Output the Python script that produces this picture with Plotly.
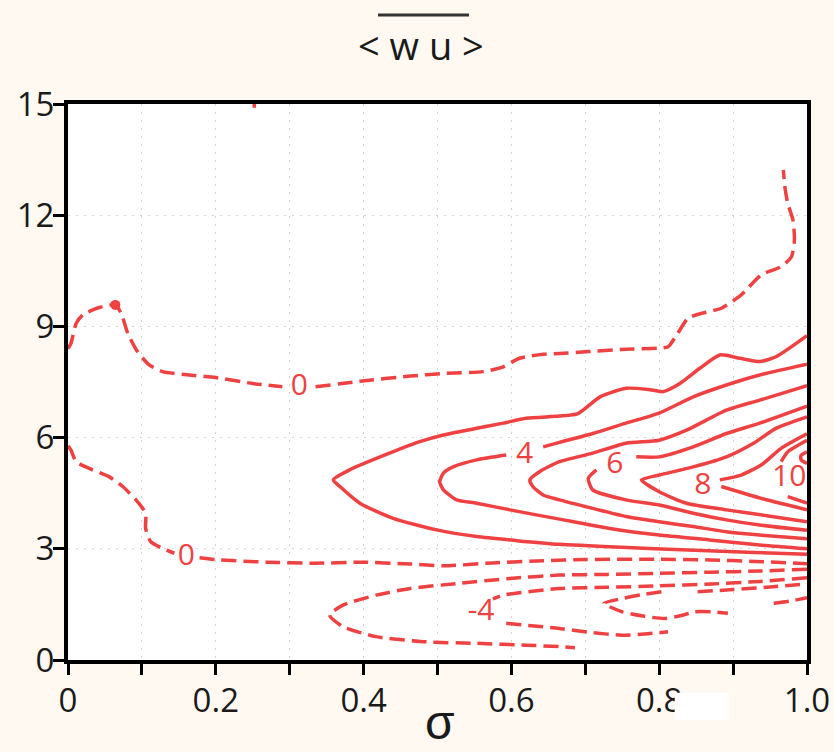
import plotly.graph_objects as go

# ---------------- data: contour lines of <w'u'> ----------------
# each contour is given as sigma values and heights; None marks a gap (label position)

# zero contour, upper branch (dashed)
z0u_x = [0.0, 0.004, 0.011, 0.02, 0.042, 0.064, 0.072, 0.081, 0.094, 0.11, 0.128, 0.164, 0.2, 0.25, 0.29,
         None, 0.335, 0.395, 0.463, 0.508, 0.562, 0.589, 0.611, 0.643, 0.665, 0.704, 0.749, 0.798, 0.812,
         0.825, 0.839, 0.857, 0.884, 0.911, 0.938, 0.965, 0.979, 0.983, 0.981, 0.974, 0.970, 0.968]
z0u_y = [8.40, 8.54, 9.08, 9.31, 9.51, 9.58, 9.35, 8.81, 8.32, 7.96, 7.78, 7.69, 7.62, 7.46, 7.37,
         None, 7.37, 7.52, 7.66, 7.73, 7.78, 7.91, 8.14, 8.25, 8.27, 8.32, 8.38, 8.41, 8.45,
         8.81, 9.22, 9.35, 9.49, 9.85, 10.39, 10.61, 10.88, 11.33, 11.87, 12.32, 12.77, 13.22]

# zero contour, lower branch (dashed)
z0l_x = [0.0, 0.004, 0.011, 0.033, 0.056, 0.074, 0.092, 0.105, 0.105, 0.112, 0.128, 0.144,
         None, 0.178, 0.205, 0.268, 0.335, 0.395, 0.463, 0.508, 0.575, 0.643, 0.70, 0.794, 0.87, 0.929, 1.0]
z0l_y = [5.78, 5.66, 5.35, 5.13, 4.94, 4.68, 4.32, 3.96, 3.55, 3.19, 3.01, 2.88,
         None, 2.76, 2.70, 2.64, 2.61, 2.64, 2.59, 2.54, 2.62, 2.68, 2.71, 2.72, 2.70, 2.66, 2.60]

# tiny zero-contour piece at the top
z0t_x = [0.252, 0.252]
z0t_y = [15.0, 14.9]

# negative contours (dashed)
n1_x = [1.0, 0.936, 0.87, 0.80, 0.73, 0.665, 0.598, 0.53, 0.463, 0.417, 0.372, 0.354, 0.372, 0.417, 0.485, 0.553, 0.62, 0.665, 0.686]
n1_y = [2.45, 2.40, 2.37, 2.34, 2.31, 2.29, 2.20, 2.07, 1.93, 1.75, 1.48, 1.21, 0.90, 0.63, 0.49, 0.45, 0.40, 0.36, 0.33]

n2_x = [1.0, 0.936, 0.87, 0.80, 0.73, 0.665, 0.589, 0.575, None, 0.593, 0.665, 0.704, 0.749, 0.78, 0.812]
n2_y = [2.22, 2.12, 2.05, 2.00, 1.96, 1.93, 1.75, 1.65, None, 0.99, 0.85, 0.75, 0.67, 0.70, 0.76]

n3_x = [0.803, 0.775, 0.75, 0.725, 0.75, 0.78, 0.807, 0.83, 0.848, 0.87, 0.893]
n3_y = [1.84, 1.76, 1.66, 1.53, 1.30, 1.18, 1.12, 1.20, 1.30, 1.30, 1.26]

n4_x = [0.852, 0.90, 0.95, 1.0]
n4_y = [1.84, 1.90, 1.97, 2.05]

n5_x = [0.955, 0.98, 1.0]
n5_y = [1.53, 1.60, 1.68]

# positive contours (solid); each as one open curve from upper right edge, round the tip, to lower right edge
pA_x = [1.0, 0.958, 0.936, 0.909, 0.882, 0.855, 0.828, 0.805, 0.785, 0.755, 0.72, 0.69, 0.665, 0.62, 0.589, 0.553, 0.508, 0.476, 0.435, 0.381, 0.359,
        0.368, 0.395, 0.44, 0.499, 0.553, 0.607, 0.665, 0.749, 0.839, 0.929, 1.0]
pA_y = [8.75, 8.18, 8.05, 8.14, 8.23, 7.87, 7.46, 7.24, 7.30, 7.33, 7.10, 6.65, 6.58, 6.52, 6.39, 6.25, 6.07, 5.89, 5.58, 5.13, 4.86,
        4.68, 4.23, 3.82, 3.51, 3.33, 3.22, 3.12, 3.04, 2.97, 2.90, 2.85]

pB_x = [1.0, 0.936, 0.891, 0.846, 0.80, 0.755, 0.71, 0.665, 0.643, None, 0.593, 0.553, 0.521, 0.508, 0.503,
        0.508, 0.526, 0.553, 0.598, 0.665, 0.733, 0.80, 0.868, 0.936, 1.0]
pB_y = [7.98, 7.69, 7.42, 7.10, 6.66, 6.39, 6.11, 5.87, 5.75, None, 5.53, 5.40, 5.21, 5.04, 4.81,
        4.59, 4.32, 4.23, 4.05, 3.80, 3.55, 3.37, 3.24, 3.10, 3.00]

pC_x = [1.0, 0.936, 0.891, 0.837, 0.80, 0.755, 0.71, 0.665, 0.638, 0.625,
        0.629, 0.643, 0.665, 0.71, 0.755, 0.80, 0.846, 0.891, 0.936, 1.0]
pC_y = [7.40, 7.01, 6.74, 6.20, 5.93, 5.85, 5.58, 5.35, 5.08, 4.86,
        4.68, 4.45, 4.32, 4.09, 3.87, 3.73, 3.60, 3.46, 3.37, 3.27]

pD_x = [1.0, 0.936, 0.891, 0.846, 0.80, 0.769, None, 0.715, 0.704,
        0.71, 0.755, 0.80, 0.846, 0.891, 0.936, 1.0]
pD_y = [6.85, 6.39, 6.11, 5.75, 5.48, 5.48, None, 5.13, 4.90,
        4.59, 4.32, 4.18, 3.96, 3.78, 3.64, 3.50]

pE_x = [1.0, 0.958, 0.927, 0.891, 0.846, 0.80, 0.776, 0.80, 0.837, 0.891, 0.95, 1.0]
pE_y = [6.56, 6.25, 5.84, 5.48, 5.21, 4.99, 4.86, 4.54, 4.23, 4.05, 3.88, 3.73]

pF_x = [1.0, 0.965, 0.938, 0.911, 0.882, None, 0.884, 0.938, 0.974, 1.0]
pF_y = [6.10, 5.71, 5.26, 4.99, 4.86, None, 4.68, 4.36, 4.18, 4.05]

pG_x = [1.0, 0.974, 0.965, None, 0.974, 1.0]
pG_y = [5.93, 5.62, 5.35, None, 4.41, 4.23]

pH_x = [1.0, 0.992, 0.992, 1.0]
pH_y = [5.62, 5.52, 5.40, 5.30]

# contour labels
lab_text = ["0", "0", "4", "6", "8", "10", "-4"]
lab_x = [0.313, 0.160, 0.618, 0.740, 0.859, 0.976, 0.559]
lab_y = [7.34, 2.76, 5.53, 5.26, 4.68, 4.90, 1.29]

# axis ticks
x_tick_vals = [0, 0.1, 0.2, 0.3, 0.4, 0.5, 0.6, 0.7, 0.8, 0.9, 1.0]
x_tick_text = ["0", "", "0.2", "", "0.4", "", "0.6", "", "0.8", "", "1.0"]
y_tick_vals = [0, 3, 6, 9, 12, 15]
y_tick_text = ["0", "3", "6", "9", "12", "15"]

# ---------------- figure ----------------
RED = "#EF4141"
FONT = "Open Sans, DejaVu Sans, sans-serif"
DASH = "15px,7px"

fig = go.Figure()

def add_line(xs, ys, dashed):
    fig.add_trace(go.Scatter(
        x=xs, y=ys, mode="lines", connectgaps=False, hoverinfo="skip", showlegend=False,
        line=dict(color=RED, width=3.5, shape="spline", smoothing=0.6, dash=DASH if dashed else "solid"),
    ))

for xs, ys in [(z0u_x, z0u_y), (z0l_x, z0l_y), (z0t_x, z0t_y), (n1_x, n1_y), (n2_x, n2_y),
               (n3_x, n3_y), (n4_x, n4_y), (n5_x, n5_y)]:
    add_line(xs, ys, True)
for xs, ys in [(pA_x, pA_y), (pB_x, pB_y), (pC_x, pC_y), (pD_x, pD_y), (pE_x, pE_y),
               (pF_x, pF_y), (pG_x, pG_y), (pH_x, pH_y)]:
    add_line(xs, ys, False)

# the dot on the zero contour near the wall
fig.add_trace(go.Scatter(x=[z0u_x[5]], y=[z0u_y[5]], mode="markers", hoverinfo="skip", showlegend=False,
                         marker=dict(color=RED, size=10)))

fig.add_trace(go.Scatter(x=lab_x, y=lab_y, text=lab_text, mode="text", hoverinfo="skip", showlegend=False,
                         textfont=dict(color=RED, size=30, family=FONT)))

axis_common = dict(
    ticks="outside", ticklen=11, tickwidth=2.5, tickcolor="black",
    showline=True, linewidth=4, linecolor="black", mirror=True,
    showgrid=True, gridcolor="#d2d2d2", griddash="2px,6px", gridwidth=1,
    zeroline=False, automargin=False,
    tickfont=dict(family=FONT, size=33, color="#1a1a1a"),
)
fig.update_xaxes(range=[0, 1], tickmode="array", tickvals=x_tick_vals, ticktext=x_tick_text,
                 ticklabelstandoff=-3, **axis_common)
fig.update_yaxes(range=[0, 15], tickmode="array", tickvals=y_tick_vals, ticktext=y_tick_text,
                 ticklabelstandoff=-8, **axis_common)

fig.update_layout(
    width=834, height=752,
    margin=dict(l=68, r=27, t=104, b=92, autoexpand=False),
    paper_bgcolor="#FFF9F1", plot_bgcolor="white",
    showlegend=False,
    annotations=[
        dict(text="< w u >", xref="paper", yref="paper", x=0.478, y=1.106, showarrow=False,
             xanchor="center", yanchor="middle", font=dict(family=FONT, size=38, color="#1a1a1a")),
        dict(text="σ", xref="paper", yref="paper", x=0.503, y=-0.1637, showarrow=False,
             xanchor="center", yanchor="bottom",
             font=dict(family="Liberation Sans, Arial, sans-serif", size=48, color="#1a1a1a")),
    ],
    shapes=[
        dict(type="line", xref="paper", yref="paper", x0=0.4195, x1=0.5426, y0=1.160, y1=1.160,
             line=dict(color="#333333", width=3)),
        dict(type="rect", xref="paper", yref="paper", x0=0.821, x1=0.894, y0=-0.108, y1=-0.059,
             fillcolor="white", line=dict(width=0), layer="above"),
    ],
)

fig.write_html("out.html")
